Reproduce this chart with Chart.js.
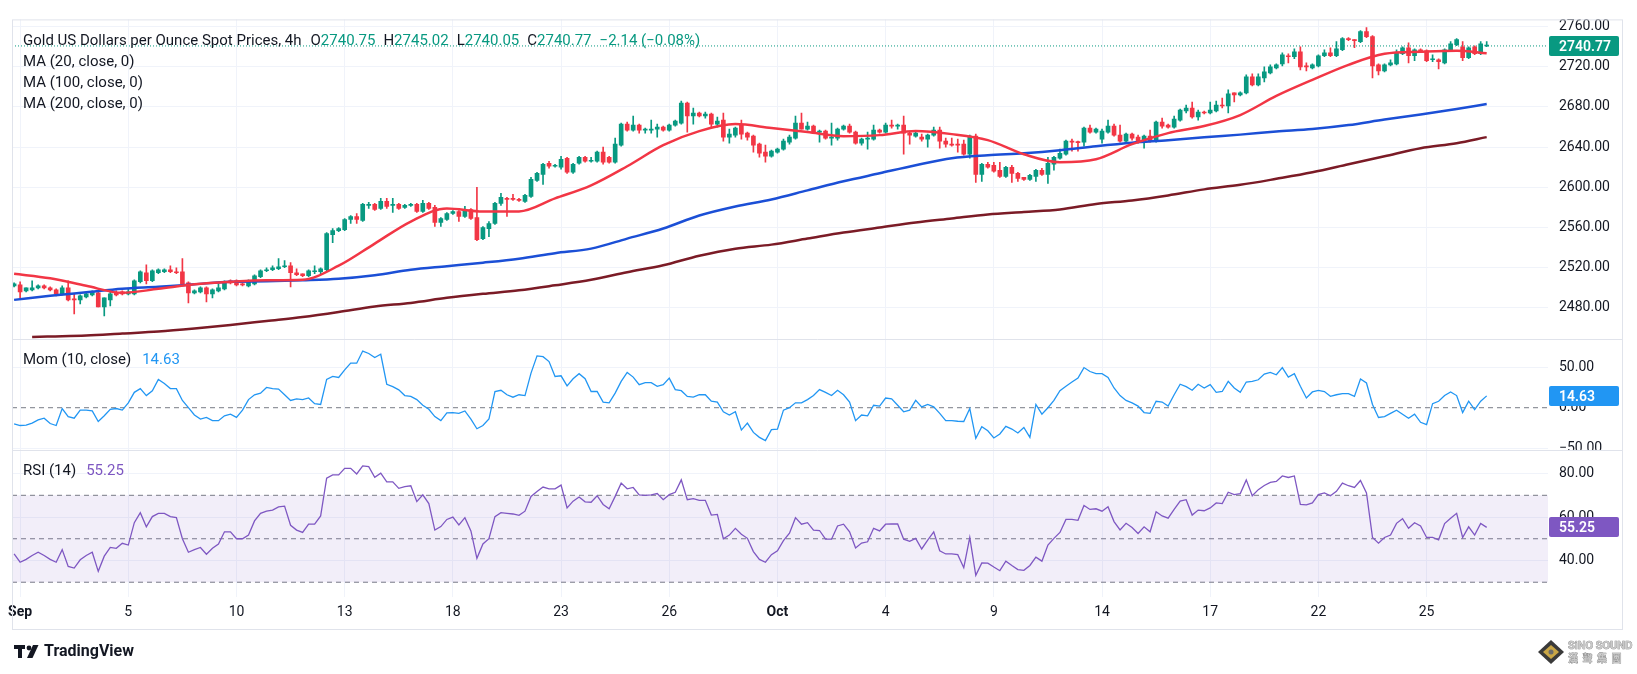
<!DOCTYPE html>
<html>
<head>
<meta charset="utf-8">
<title>Gold US Dollars per Ounce Spot Prices, 4h</title>
<script src="https://cdn.jsdelivr.net/npm/chart.js@4.4.1/dist/chart.umd.min.js"></script>
<style>
  html, body { margin: 0; padding: 0; background: #fff; }
  #wrap { position: relative; width: 1637px; height: 674px; }
</style>
</head>
<body>
<div id="wrap"><canvas id="gold"></canvas></div>
<script>
// 4h candles, Sep 2 -> Oct 28 (index 0 = last bar before the Sep 2 session)
const opens = [
  2502, 2503, 2497, 2498, 2500, 2502, 2500, 2498, 2494, 2500,
  2489, 2488, 2491, 2493, 2495, 2481, 2488, 2495, 2496, 2494,
  2494, 2506, 2515, 2507, 2515, 2516, 2518, 2516, 2516, 2505,
  2495, 2496, 2500, 2494, 2497, 2499, 2507, 2507, 2504, 2502,
  2504, 2511, 2517, 2518, 2519, 2521, 2522, 2515, 2514, 2512,
  2516, 2516, 2518, 2553, 2557, 2558, 2568, 2571, 2567, 2582,
  2583, 2579, 2586, 2582, 2583, 2580, 2582, 2583, 2576, 2584,
  2580, 2565, 2568, 2574, 2576, 2571, 2578, 2570, 2549, 2559,
  2564, 2584, 2589, 2589, 2588, 2586, 2591, 2607, 2613, 2624,
  2621, 2620, 2629, 2615, 2624, 2630, 2626, 2626, 2635, 2630,
  2625, 2642, 2663, 2657, 2662, 2657, 2657, 2658, 2660, 2657,
  2662, 2664, 2684, 2671, 2674, 2671, 2673, 2663, 2667, 2650,
  2652, 2662, 2654, 2651, 2643, 2635, 2631, 2635, 2638, 2645,
  2649, 2664, 2658, 2661, 2655, 2656, 2649, 2649, 2658, 2661,
  2655, 2644, 2648, 2648, 2657, 2655, 2662, 2661, 2662, 2654,
  2651, 2650, 2648, 2652, 2657, 2646, 2643, 2643, 2643, 2633,
  2651, 2613, 2623, 2622, 2617, 2611, 2620, 2614, 2610, 2608,
  2611, 2617, 2613, 2623, 2629, 2633, 2646, 2645, 2645, 2659,
  2655, 2648, 2655, 2661, 2652, 2646, 2653, 2650, 2645, 2651,
  2646, 2665, 2662, 2660, 2667, 2676, 2679, 2670, 2675, 2674,
  2676, 2682, 2681, 2694, 2692, 2694, 2710, 2702, 2709, 2714,
  2719, 2723, 2731, 2730, 2735, 2721, 2719, 2721, 2731, 2734,
  2731, 2737, 2748, 2747, 2745, 2755, 2750, 2722, 2716, 2722,
  2723, 2733, 2739, 2731, 2737, 2736, 2727, 2727, 2724, 2736,
  2742, 2740, 2729, 2740, 2733, 2740.75
];
const highs = [
  2505, 2506, 2500, 2507, 2503, 2503, 2501, 2499, 2502, 2507,
  2494, 2493, 2495, 2497, 2496, 2490, 2497, 2497, 2497, 2499,
  2508, 2517, 2523, 2518, 2519, 2519, 2522, 2520, 2529, 2506,
  2498, 2501, 2501, 2499, 2504, 2507, 2508, 2508, 2505, 2508,
  2513, 2518, 2520, 2522, 2529, 2527, 2525, 2519, 2514, 2518,
  2522, 2520, 2555, 2559, 2560, 2569, 2572, 2574, 2584, 2585,
  2584, 2589, 2589, 2589, 2584, 2583, 2584, 2584, 2587, 2585,
  2582, 2570, 2575, 2577, 2577, 2581, 2579, 2600, 2561, 2566,
  2585, 2594, 2590, 2593, 2589, 2593, 2610, 2615, 2624, 2626,
  2623, 2631, 2630, 2624, 2631, 2631, 2630, 2636, 2640, 2631,
  2649, 2664, 2665, 2671, 2663, 2659, 2667, 2663, 2661, 2663,
  2667, 2686, 2685, 2679, 2675, 2675, 2674, 2670, 2674, 2658,
  2660, 2667, 2655, 2652, 2644, 2642, 2637, 2639, 2648, 2652,
  2671, 2674, 2665, 2662, 2657, 2657, 2664, 2659, 2662, 2663,
  2656, 2649, 2655, 2662, 2658, 2664, 2667, 2663, 2671, 2655,
  2655, 2653, 2653, 2660, 2660, 2649, 2649, 2648, 2647, 2652,
  2653, 2624, 2625, 2625, 2625, 2621, 2622, 2615, 2610, 2613,
  2618, 2619, 2630, 2631, 2638, 2647, 2648, 2646, 2660, 2662,
  2659, 2658, 2667, 2663, 2662, 2654, 2654, 2652, 2652, 2657,
  2666, 2669, 2663, 2671, 2678, 2682, 2685, 2677, 2676, 2685,
  2686, 2689, 2697, 2694, 2695, 2712, 2713, 2713, 2720, 2722,
  2723, 2734, 2733, 2738, 2740, 2724, 2723, 2732, 2737, 2739,
  2745, 2749, 2749, 2747, 2756, 2759, 2751, 2723, 2723, 2727,
  2737, 2740, 2744, 2738, 2738, 2737, 2732, 2728, 2738, 2745,
  2748, 2745, 2740, 2741, 2745, 2745.02
];
const lows = [
  2501, 2490, 2496, 2497, 2499, 2499, 2497, 2492, 2493, 2487,
  2474, 2484, 2490, 2492, 2481, 2472, 2482, 2492, 2493, 2493,
  2493, 2505, 2504, 2506, 2514, 2515, 2515, 2514, 2503, 2485,
  2494, 2495, 2486, 2490, 2496, 2498, 2504, 2502, 2502, 2501,
  2503, 2510, 2516, 2517, 2518, 2520, 2501, 2512, 2511, 2511,
  2514, 2513, 2517, 2545, 2556, 2557, 2564, 2564, 2566, 2579,
  2577, 2578, 2579, 2575, 2578, 2579, 2581, 2575, 2575, 2578,
  2561, 2561, 2567, 2573, 2566, 2570, 2568, 2547, 2548, 2551,
  2563, 2582, 2571, 2587, 2586, 2585, 2590, 2606, 2603, 2619,
  2620, 2618, 2614, 2614, 2623, 2625, 2625, 2625, 2623, 2624,
  2624, 2641, 2656, 2656, 2654, 2654, 2654, 2650, 2656, 2656,
  2661, 2663, 2655, 2663, 2670, 2669, 2660, 2660, 2646, 2644,
  2650, 2648, 2647, 2635, 2630, 2625, 2630, 2634, 2637, 2643,
  2648, 2658, 2657, 2654, 2645, 2648, 2642, 2647, 2657, 2654,
  2643, 2642, 2638, 2647, 2654, 2654, 2659, 2658, 2633, 2643,
  2650, 2646, 2640, 2651, 2639, 2640, 2641, 2635, 2632, 2629,
  2605, 2606, 2619, 2615, 2610, 2610, 2605, 2606, 2607, 2607,
  2606, 2612, 2604, 2617, 2628, 2632, 2636, 2636, 2641, 2654,
  2654, 2644, 2654, 2651, 2645, 2645, 2647, 2644, 2639, 2645,
  2645, 2659, 2659, 2659, 2666, 2674, 2669, 2667, 2673, 2673,
  2675, 2679, 2674, 2685, 2691, 2693, 2701, 2701, 2705, 2713,
  2718, 2721, 2724, 2728, 2717, 2716, 2718, 2720, 2730, 2730,
  2730, 2736, 2746, 2739, 2744, 2749, 2709, 2712, 2715, 2721,
  2722, 2732, 2724, 2726, 2734, 2725, 2725, 2718, 2723, 2735,
  2741, 2726, 2728, 2732, 2732, 2740.05
];
const closes = [
  2504, 2496, 2500, 2500, 2502, 2500, 2498, 2494, 2500, 2488,
  2488, 2492, 2494, 2496, 2481, 2490, 2494, 2493, 2494, 2496,
  2507, 2516, 2507, 2517, 2518, 2518, 2516, 2515, 2504, 2495,
  2497, 2500, 2494, 2498, 2500, 2506, 2505, 2503, 2503, 2507,
  2512, 2517, 2518, 2520, 2521, 2522, 2515, 2513, 2512, 2517,
  2517, 2519, 2554, 2557, 2559, 2568, 2571, 2568, 2583, 2583,
  2578, 2586, 2581, 2583, 2579, 2582, 2583, 2576, 2584, 2579,
  2565, 2569, 2574, 2576, 2571, 2578, 2569, 2548, 2560, 2564,
  2584, 2590, 2588, 2588, 2587, 2592, 2608, 2614, 2623, 2621,
  2622, 2628, 2615, 2623, 2630, 2626, 2627, 2635, 2625, 2625,
  2643, 2663, 2657, 2662, 2657, 2658, 2658, 2660, 2657, 2662,
  2666, 2684, 2671, 2674, 2671, 2673, 2663, 2666, 2650, 2653,
  2659, 2653, 2650, 2642, 2634, 2631, 2636, 2638, 2646, 2650,
  2664, 2658, 2661, 2655, 2656, 2649, 2650, 2658, 2661, 2655,
  2644, 2648, 2649, 2657, 2655, 2662, 2661, 2662, 2654, 2652,
  2654, 2648, 2652, 2657, 2646, 2643, 2642, 2642, 2633, 2651,
  2613, 2623, 2620, 2616, 2611, 2620, 2614, 2609, 2608, 2612,
  2617, 2613, 2624, 2630, 2634, 2646, 2645, 2644.5, 2659, 2655,
  2658, 2656, 2661, 2652, 2646, 2653, 2649, 2645, 2651, 2646,
  2665, 2661, 2660, 2668, 2677, 2679, 2670, 2675, 2674, 2677,
  2682, 2681, 2693, 2692, 2694, 2710, 2702, 2710, 2715, 2720,
  2722, 2732, 2730, 2735, 2720, 2720, 2722, 2731, 2734, 2731,
  2738, 2748, 2747, 2746, 2755, 2750, 2721, 2716, 2722, 2724,
  2734, 2739, 2731, 2737, 2735, 2726, 2727.5, 2725, 2737, 2743,
  2747, 2729, 2739, 2733, 2742.91, 2740.77
];

// moving averages at the bars listed in maIdx / ma200Idx
const maIdx = [0, 6, 12, 18, 24, 30, 36, 42, 48, 54, 60, 66, 72, 78, 84, 90, 96, 102, 108, 114, 120,
  126, 132, 138, 144, 150, 156, 162, 168, 174, 180, 186, 192, 198, 204, 210, 216, 222, 228, 234, 240, 245];
const ma20 = [2514, 2509.5, 2502, 2495, 2499, 2503.5, 2506, 2507.5, 2508, 2522, 2544, 2566, 2579, 2576,
  2576, 2589, 2602, 2621, 2642, 2656, 2663, 2659, 2655, 2651, 2652, 2656, 2653, 2647, 2633, 2625, 2628,
  2643, 2654, 2661, 2672, 2691, 2707, 2722, 2733, 2735, 2736, 2733.5];
const ma100 = [2488, 2492, 2495.5, 2499, 2501, 2503.5, 2506, 2506.5, 2507.5, 2509, 2512.5, 2518, 2521.5,
  2525, 2529, 2534.5, 2539, 2549, 2559, 2572, 2581, 2588, 2597, 2606, 2614, 2622, 2629, 2632, 2634, 2637,
  2641, 2644.5, 2647, 2650, 2652.5, 2655.5, 2658, 2662, 2667.5, 2672.5, 2678, 2683];
const ma200Idx = [3, 6, 12, 18, 24, 30, 36, 42, 48, 54, 60, 66, 72, 78, 84, 90, 96, 102, 108, 114, 120,
  126, 132, 138, 144, 150, 156, 162, 168, 174, 180, 186, 192, 198, 204, 210, 216, 222, 228, 234, 240, 245];
const ma200 = [2451, 2451.5, 2452.5, 2454.5, 2456.5, 2459.5, 2463, 2467, 2471, 2476, 2481.5, 2485, 2490,
  2494, 2497.5, 2502.5, 2508, 2515.5, 2522.5, 2532, 2539, 2543, 2549, 2555, 2560, 2565, 2569, 2573,
  2575.5, 2578, 2583.5, 2587, 2592, 2598, 2602.5, 2608.5, 2615, 2623, 2631, 2639, 2644, 2650];

// Mom (10, close)
const mom = [
  -20, -22, -21.5, -19, -15, -13, -19.5, -22, -1, -11,
  -13, -3, -3, -4, -17, -10, -2, -1, -3, 6,
  19, 23.6, 15, 21, 35, 30, 23.6, 23.6, 9, 0,
  -9, -14, -12, -16, -16, -10, -8, -12, -3, 10,
  16, 18, 25, 23.6, 23, 16, 9, 11, 10, 12,
  5, 4, 35, 38.6, 37.4, 46.7, 55, 55, 70, 67,
  62, 66, 29, 26, 22, 15, 14, 10, 3, -2,
  -11, -16, -6.5, -6, -7, -4, -14, -26, -22, -14,
  20, 21.5, 16, 13, 16, 15, 42.7, 64, 63, 57,
  38.6, 39.4, 27, 35.8, 42, 35.8, 20, 20, 7, 6,
  18, 32.5, 43.5, 37.8, 28.5, 31, 31, 26.4, 28.5, 36.6,
  22.4, 21, 14, 13, 16, 16, 8, 7, -5, -9,
  -5, -27.6, -19, -30.5, -36.6, -40.7, -27, -26.4, -3, 0,
  6, 6, 10, 15, 22.4, 19, 15, 21.5, 16, 7,
  -16, -9, -10, 3, 2, 12, 11, 3, -5, -3,
  9, 1, 4, 1, -7, -16, -16, -16.7, -17, -1,
  -37.8, -23.6, -28.5, -37.4, -32.5, -23, -26.4, -31.3, -24.4, -36.6,
  4, -8, 0, 9, 21, 26.4, 31.7, 36.6, 49.6, 44.7,
  42, 42, 37.4, 24.4, 15, 9, 6, 2, -6, -7,
  8, 7, 2, 16, 29, 26, 21.5, 29, 24.4, 28.5,
  19, 20, 32.5, 24.4, 19, 31.7, 32.5, 34.5, 41.5, 43.5,
  40.7, 49.6, 37.8, 42, 26.4, 12, 19.5, 21.5, 20, 14,
  16, 17.5, 17.5, 14, 35.4, 30.5, 4, -12, -11, -7,
  -3, -8, -13, -8, -18, -21, 5, 8, 15, 19.5,
  15, -6, 8, -2.3, 8, 14.63
];

// RSI (14)
const rsi = [
  43, 39.2, 40.5, 42.3, 43.8, 42.3, 40.5, 39.2, 45, 37.3,
  36.5, 40.3, 42.3, 43.8, 35, 42, 46, 45.6, 47.9, 47.1,
  57.4, 62, 55.5, 60.2, 61.7, 61.7, 60.2, 59.7, 50, 43.8,
  45, 46, 42.9, 45.6, 47.6, 53.2, 53.2, 50, 50, 51.7,
  58.2, 61.7, 62.7, 63.2, 64.7, 65, 56.2, 54, 52.9, 56.7,
  56.7, 60.5, 77.9, 79.4, 79.4, 82.4, 82.4, 79.8, 83.5, 83.2,
  78.3, 80.2, 76.2, 76.2, 73.2, 74, 74.4, 67.1, 70.2, 66.2,
  54, 55.6, 58.9, 60, 56.4, 59.7, 53.6, 41, 47.6, 50,
  60.2, 62, 61.7, 61.4, 60.8, 62.7, 69.5, 71.8, 73.8, 73,
  73, 74.7, 64.2, 67.3, 69.2, 67, 66.8, 69.8, 65.8, 63.8,
  69.5, 75.6, 73, 73.6, 70.2, 70, 70.2, 70.8, 68, 70.3,
  71.4, 77.1, 68, 68.5, 67.7, 67.7, 60.9, 61.2, 50, 51.7,
  54.8, 52.1, 50.2, 44.1, 40.5, 39.2, 42.7, 44.5, 49.1, 52.6,
  59.7, 56.7, 57.4, 54, 53.8, 49.8, 49.8, 55.9, 56.7, 53.2,
  45.8, 48, 48.6, 54.8, 53.6, 56.7, 56.8, 56.8, 49.8, 48.8,
  50.2, 45.3, 49.4, 53.2, 44.5, 43, 43, 42.7, 36.7, 50.6,
  33.2, 38.9, 38.8, 37, 35.3, 39.7, 37.7, 35.8, 35.5, 37.7,
  41.5, 39.7, 47.1, 50.2, 52.9, 58.9, 58.9, 58.5, 65.3, 63.5,
  63.8, 62.7, 64.7, 57.9, 54.1, 57.1, 55.2, 52.4, 55.5, 53.2,
  62.4, 60.5, 59.5, 63.5, 67.3, 68, 60.9, 63.2, 62.9, 64.2,
  66.5, 66.2, 71.4, 70.3, 70.8, 77.1, 69.8, 72.6, 74.5, 75.9,
  76.4, 78.9, 78.2, 78.9, 65.8, 65.6, 66.5, 70.3, 71.1, 69.8,
  71.8, 75.6, 74.4, 73.6, 76.8, 71.1, 50.6, 48, 50.6, 51.7,
  57.1, 59.2, 54.8, 57.4, 55.9, 50.6, 50.6, 49.5, 57, 59.4,
  61.7, 50.6, 55.5, 51.7, 57, 55.25
];

// axes
const tickIdx = [1, 19, 37, 55, 73, 91, 109, 127, 145, 163, 181, 199, 217, 235];
const tickLabels = ['Sep', '5', '10', '13', '18', '23', '26', 'Oct', '4', '9', '14', '17', '22', '25'];
const priceTicks = [2480, 2520, 2560, 2600, 2640, 2680, 2720, 2760];
const momTicks = [-50, 0, 50];
const rsiTicks = [40, 60, 80];
const rsiBand = [30, 70];

const X_MIN = -0.35, X_MAX = 255.2;
const FONT = 'Roboto, "Noto Sans", sans-serif';
const TEXT = '#131722';
const GRID = '#f0f3fa';
const UP = '#089981', DOWN = '#f23645';
const MOM_COLOR = '#2196f3', RSI_COLOR = '#7e57c2';

const last = closes.length - 1;
const fmt = v => v.toFixed(2).replace('-', '\u2212');
const candleColor = ctx => closes[ctx.dataIndex] >= opens[ctx.dataIndex] ? UP : DOWN;

const pairs = (xs, ys) => xs.map((x, i) => ({x: x, y: ys[i]}));
const series = ys => ys.map((y, i) => ({x: i, y: y}));
const flat = v => [{x: X_MIN, y: v}, {x: X_MAX, y: v}];

function maLine(idx, vals, color, order) {
  return {
    type: 'line', yAxisID: 'y', data: pairs(idx, vals),
    borderColor: color, borderWidth: 2.5, pointRadius: 0,
    cubicInterpolationMode: 'monotone', order: order
  };
}
function level(v, axis, extra) {
  return Object.assign({
    type: 'line', yAxisID: axis, data: flat(v),
    borderColor: '#787b86', borderWidth: 1, borderDash: [5, 4],
    pointRadius: 0, fill: false, order: 7
  }, extra || {});
}

const datasets = [
  {
    type: 'bar', yAxisID: 'y', grouped: false, order: 10,
    data: closes.map((c, i) => ({x: i, y: [lows[i], highs[i]]})),
    backgroundColor: candleColor, barThickness: 1
  },
  {
    type: 'bar', yAxisID: 'y', grouped: false, order: 9,
    data: closes.map((c, i) => ({x: i, y: [opens[i], c]})),
    backgroundColor: candleColor, barThickness: 4, minBarLength: 1
  },
  {
    type: 'line', yAxisID: 'y', data: flat(closes[last]),
    borderColor: UP, borderWidth: 1, borderDash: [1, 2], pointRadius: 0, order: 5
  },
  maLine(ma200Idx, ma200, '#7b1b26', 3),
  maLine(maIdx, ma100, '#1b4fd6', 2),
  maLine(maIdx, ma20, '#f23645', 1),

  level(0, 'yMom'),
  {
    type: 'line', yAxisID: 'yMom', data: series(mom),
    borderColor: MOM_COLOR, borderWidth: 1.3, pointRadius: 0, order: 4
  },

  level(rsiBand[1], 'yRsi', {fill: {value: rsiBand[0]}, backgroundColor: 'rgba(126, 87, 194, 0.1)'}),
  level(50, 'yRsi'),
  level(rsiBand[0], 'yRsi'),
  {
    type: 'line', yAxisID: 'yRsi', data: series(rsi),
    borderColor: RSI_COLOR, borderWidth: 1.3, pointRadius: 0, order: 4
  }
];

function yAxis(min, max, weight, ticks, hideZero) {
  return {
    type: 'linear', position: 'right', stack: 'panes', stackWeight: weight,
    min: min, max: max,
    afterBuildTicks: s => { s.ticks = ticks.map(v => ({value: v})); },
    afterFit: s => { s.width = 75; },
    grid: {
      drawTicks: false,
      color: ctx => (hideZero && ctx.tick && ctx.tick.value === 0) ? 'rgba(0,0,0,0)' : GRID
    },
    border: {display: false},
    ticks: {
      padding: 11, color: TEXT, font: {family: FONT, size: 14},
      callback: v => fmt(v)
    }
  };
}

function drawRun(c, x, y, parts) {
  parts.forEach(p => {
    c.fillStyle = p[1];
    c.fillText(p[0], x, y);
    x += c.measureText(p[0]).width + (p[2] || 0);
  });
}

function priceTag(c, scale, value, color) {
  const y = Math.round(scale.getPixelForValue(value));
  c.fillStyle = color;
  c.beginPath();
  c.roundRect(scale.left + 1, y - 10, 70, 20, 2);
  c.fill();
  c.fillStyle = '#ffffff';
  c.font = '600 14px ' + FONT;
  c.textBaseline = 'middle';
  c.fillText(fmt(value), scale.left + 11, y + 1);
}

const tvFrame = {
  id: 'tvFrame',
  beforeDraw(chart) {
    const c = chart.ctx;
    c.save();
    c.fillStyle = '#ffffff';
    c.fillRect(0, 0, chart.width, chart.height);
    c.restore();
  },
  afterDraw(chart) {
    const c = chart.ctx;
    const area = chart.chartArea;
    const y = chart.scales.y, yMom = chart.scales.yMom, yRsi = chart.scales.yRsi, x = chart.scales.x;
    const right = y.right;
    c.save();

    // the -50 label is cut by the pane border
    c.fillStyle = '#ffffff';
    c.fillRect(yRsi.left + 1, yRsi.top, right - yRsi.left - 2, 12);

    // frame and pane separators
    c.strokeStyle = '#e0e3eb';
    c.lineWidth = 1;
    c.strokeRect(area.left + 0.5, area.top + 0.5, right - area.left - 1, x.bottom - area.top);
    [yMom.top, yRsi.top].forEach(t => {
      c.beginPath();
      c.moveTo(area.left, Math.round(t) + 0.5);
      c.lineTo(right, Math.round(t) + 0.5);
      c.stroke();
    });

    // legends
    const valColor = closes[last] >= opens[last] ? UP : DOWN;
    const chg = closes[last] - closes[last - 1];
    c.font = '15px ' + FONT;
    c.textBaseline = 'middle';
    const lx = area.left + 11;
    drawRun(c, lx, area.top + 21.5, [
      ['Gold US Dollars per Ounce Spot Prices, 4h', TEXT, 9],
      ['O', TEXT], [fmt(opens[last]), valColor, 8],
      ['H', TEXT], [fmt(highs[last]), valColor, 8],
      ['L', TEXT], [fmt(lows[last]), valColor, 8],
      ['C', TEXT], [fmt(closes[last]), valColor, 8],
      [fmt(chg) + ' (' + fmt(chg / closes[last - 1] * 100) + '%)', valColor]
    ]);
    drawRun(c, lx, area.top + 42.5, [['MA (20, close, 0)', TEXT]]);
    drawRun(c, lx, area.top + 63.5, [['MA (100, close, 0)', TEXT]]);
    drawRun(c, lx, area.top + 84.5, [['MA (200, close, 0)', TEXT]]);
    drawRun(c, lx, yMom.top + 21, [['Mom (10, close)', TEXT, 11], [fmt(mom[last]), MOM_COLOR]]);
    drawRun(c, lx, yRsi.top + 21.5, [['RSI (14)', TEXT, 10], [fmt(rsi[last]), RSI_COLOR]]);

    // last value tags on the price scales
    priceTag(c, y, closes[last], UP);
    priceTag(c, yMom, mom[last], MOM_COLOR);
    priceTag(c, yRsi, rsi[last], RSI_COLOR);

    // TradingView wordmark
    const by = x.bottom + 23;
    c.fillStyle = TEXT;
    c.fillRect(14, by - 7, 11, 4);
    c.fillRect(18, by - 7, 4, 13);
    c.beginPath(); c.arc(29, by - 4, 2.4, 0, Math.PI * 2); c.fill();
    c.beginPath();
    c.moveTo(33, by - 7); c.lineTo(38.5, by - 7); c.lineTo(32.5, by + 6); c.lineTo(27, by + 6);
    c.closePath(); c.fill();
    c.font = 'bold 16px ' + FONT;
    c.fillText('TradingView', 44, by);

    // watermark
    const wx = 1551, wy = by;
    c.beginPath();
    c.moveTo(wx, wy - 12); c.lineTo(wx + 13, wy); c.lineTo(wx, wy + 12); c.lineTo(wx - 13, wy);
    c.closePath();
    c.fillStyle = '#3a3a3a'; c.fill();
    c.beginPath();
    c.moveTo(wx, wy - 7); c.lineTo(wx + 8, wy); c.lineTo(wx, wy + 7); c.lineTo(wx - 8, wy);
    c.closePath();
    c.fillStyle = '#c9a646'; c.fill();
    c.fillStyle = '#6b6b6b';
    c.beginPath(); c.arc(wx, wy, 2.5, 0, Math.PI * 2); c.fill();
    c.font = 'bold 11px ' + FONT;
    c.fillStyle = '#c8c8c8';
    c.strokeStyle = '#7a7a7a';
    c.lineWidth = 0.6;
    c.strokeText('SiNO SOUND', 1568, wy - 6);
    c.fillText('SiNO SOUND', 1568, wy - 6);
    c.font = 'bold 10px "Noto Sans CJK TC", sans-serif';
    c.strokeText('漢  聲  集  團', 1568, wy + 6);
    c.fillText('漢  聲  集  團', 1568, wy + 6);
    c.restore();
  }
};

new Chart(document.getElementById('gold'), {
  type: 'bar',
  data: {datasets: datasets},
  options: {
    responsive: true,
    maintainAspectRatio: false,
    animation: false,
    events: [],
    layout: {padding: {left: 12, top: 12, right: 14, bottom: 45}},
    plugins: {legend: {display: false}, tooltip: {enabled: false}},
    scales: {
      x: {
        type: 'linear', position: 'bottom', min: X_MIN, max: X_MAX, offset: false,
        afterBuildTicks: s => { s.ticks = tickIdx.map(v => ({value: v})); },
        afterFit: s => { s.height = 32; },
        grid: {color: GRID, drawTicks: false, offset: false},
        border: {display: false},
        ticks: {
          autoSkip: false, maxRotation: 0, padding: 7, color: TEXT,
          font: ctx => ({family: FONT, size: 14, weight: /^\d/.test(tickLabels[ctx.index] || '1') ? 'normal' : 'bold'}),
          callback: (v, i) => tickLabels[i]
        }
      },
      y: yAxis(2448.75, 2767.2, 324, priceTicks, false),
      yMom: yAxis(-52.1, 84.5, 112, momTicks, true),
      yRsi: yAxis(23.2, 90.9, 149, rsiTicks, false)
    }
  },
  plugins: [tvFrame]
});
</script>
</body>
</html>
